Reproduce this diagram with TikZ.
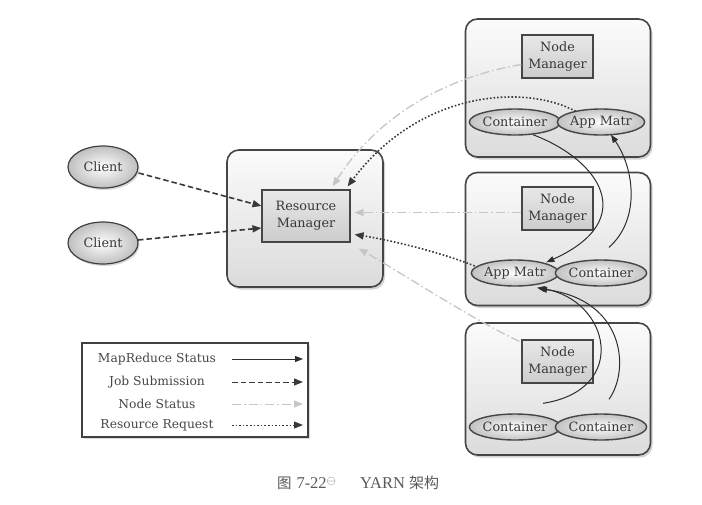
\documentclass[tikz,border=0pt]{standalone}
\usepackage{fontspec}
\setmainfont{DejaVu Serif}
\newfontfamily\cjk{Noto Sans CJK SC}
\newfontfamily\capfont{Liberation Serif}
\usetikzlibrary{shapes.geometric,arrows.meta,shadows,calc}
\begin{document}
\begin{tikzpicture}[x=1pt,y=-1pt,
  font=\fontsize{12.8}{17.5}\selectfont,
  outerbox/.style={rectangle,rounded corners=12pt,draw=gray!55!black,line width=1.6pt,
     top color=gray!3,bottom color=gray!28,
     drop shadow={opacity=0.35,shadow xshift=2pt,shadow yshift=-2.5pt}},
  innerbox/.style={rectangle,draw=gray!55!black,line width=1.1pt,top color=gray!18,bottom color=gray!40,
     align=center,inner sep=1pt,text=black!78},
  ell/.style={ellipse,draw=gray!55!black,line width=1.4pt,inner color=white,outer color=gray!48,
     minimum width=85pt,minimum height=26pt,inner sep=0pt,text=black!78},
  cli/.style={ellipse,draw=gray!50!black,line width=1.2pt,inner color=white,outer color=gray!50,
     minimum width=70pt,minimum height=42pt,inner sep=0pt,text=black!78,
     drop shadow={opacity=0.3,shadow xshift=1.5pt,shadow yshift=-2pt}},
  mrs/.style={draw=gray!35!black,line width=1pt,-{Triangle[length=8pt,width=6pt]}},
  job/.style={draw=gray!45!black,line width=1.6pt,dash pattern=on 5.5pt off 3pt,-{Triangle[length=9pt,width=7pt]}},
  nst/.style={draw=gray!45,line width=1.3pt,dash pattern=on 9pt off 3pt on 1.5pt off 3pt,-{Triangle[length=9pt,width=7pt]}},
  rrq/.style={draw=gray!45!black,line width=1.6pt,dash pattern=on 1.6pt off 2pt,-{Triangle[length=9pt,width=7pt]}},
  legtxt/.style={anchor=center,text=black!72,font=\fontsize{12.3}{14}\selectfont}
]
\useasboundingbox (0,0) rectangle (702,504);

% Resource manager
\node[outerbox,minimum width=156pt,minimum height=137pt] (rmo) at (305,218.5) {};
\node[innerbox,minimum width=88pt,minimum height=52pt] (rmi) at (306,216) {Resource\\Manager};

% Clients
\node[cli] (c1) at (103,167) {Client};
\node[cli] (c2) at (103,243) {Client};

% Node boxes
\node[outerbox,minimum width=185pt,minimum height=138pt] (tb) at (558,88) {};
\node[outerbox,minimum width=185pt,minimum height=133pt] (mb) at (558,239) {};
\node[outerbox,minimum width=185pt,minimum height=132pt] (bb) at (558,389) {};

\node[innerbox,minimum width=71pt,minimum height=43pt] (tnm) at (557.5,56.5) {Node\\Manager};
\node[innerbox,minimum width=71pt,minimum height=43pt] (mnm) at (557.5,208.5) {Node\\Manager};
\node[innerbox,minimum width=71pt,minimum height=43pt] (bnm) at (557.5,361.5) {Node\\Manager};

\node[ell] (tc) at (515,122) {Container};
\node[ell] (tam) at (601,122) {App Matr};
\node[ell] (mam) at (515,273) {App Matr};
\node[ell] (mc) at (601,273) {Container};
\node[ell] (bc1) at (515,427) {Container};
\node[ell] (bc2) at (601,427) {Container};

% Job submission
\draw[job] (c1.east) ++(0,6) -- ([yshift=10pt]rmi.west);
\draw[job] (c2) ++(35,-3) -- ([yshift=-12pt]rmi.west);

% Node status
\draw[nst] ([yshift=-8pt]tnm.west) .. controls (440,78) and (375,120) .. ([xshift=-18pt,yshift=3pt]rmi.north east);
\draw[nst] ([yshift=-4pt]mnm.west) -- ([xshift=4pt,yshift=-4pt]rmi.east |- mnm.west);
\draw[nst] ([xshift=-2pt,yshift=-2pt]bnm.north west) .. controls (470,318) and (400,272) .. ([xshift=8pt,yshift=-6pt]rmi.south east);

% Resource request
\draw[rrq] ($(tam.north west)+(6,-1)$) .. controls (525,84) and (420,90) .. ([xshift=-3pt,yshift=3pt]rmi.north east);
\draw[rrq] ($(mam.west)+(4,-7)$) .. controls (440,252) and (390,240) .. ([xshift=4pt,yshift=8pt]rmi.south east);

% MapReduce status
\draw[mrs] ($(tc.south)+(18,-1)$) .. controls (600,160) and (640,220) .. ($(mam.north east)+(0,-1)$);
\draw[mrs] ($(mc.north)+(8,-12)$) .. controls (640,220) and (635,170) .. ($(tam.south)+(10,-1)$);
\draw[mrs] ($(bc1.north)+(28,-10)$) .. controls (630,390) and (610,300) .. ($(mam.south)+(22,1)$);
\draw[mrs] ($(bc2.north)+(8,-14)$) .. controls (630,370) and (625,300) .. ($(mam.south)+(24,2)$);

% Legend
\node[rectangle,draw=gray!50!black,line width=1.4pt,fill=white,minimum width=226pt,minimum height=94pt,
  drop shadow={opacity=0.3,shadow xshift=1.5pt,shadow yshift=-1.5pt}] (leg) at (195,390) {};
\node[legtxt] (l1) at (157,359) {MapReduce Status};
\node[legtxt] (l2) at (157,382) {Job Submission};
\node[legtxt] (l3) at (157,404) {Node Status};
\node[legtxt] (l4) at (157,425) {Resource Request};
\coordinate (a1s) at (232,359); \coordinate (a1e) at (303,359);
\coordinate (a2s) at (232,382); \coordinate (a2e) at (303,382);
\coordinate (a3s) at (232,404); \coordinate (a3e) at (303,404);
\coordinate (a4s) at (232,425); \coordinate (a4e) at (303,425);
\draw[mrs] (a1s) -- (a1e);
\draw[job,line width=1pt] (a2s) -- (a2e);
\draw[nst,line width=1pt] (a3s) -- (a3e);
\draw[rrq,line width=1pt] (a4s) -- (a4e);

% Caption
\node[text=black!65,font=\capfont\fontsize{16.5}{18}\selectfont] (cap) at (358,483) {{\cjk\fontsize{14.5}{17}\selectfont 图}\hspace{5pt}7-22\raisebox{4pt}{\fontsize{12.5}{12}\selectfont$\ominus$}\hspace{24pt}YARN\hspace{4pt}{\cjk\fontsize{15}{17}\selectfont 架构}};
\end{tikzpicture}
\end{document}
